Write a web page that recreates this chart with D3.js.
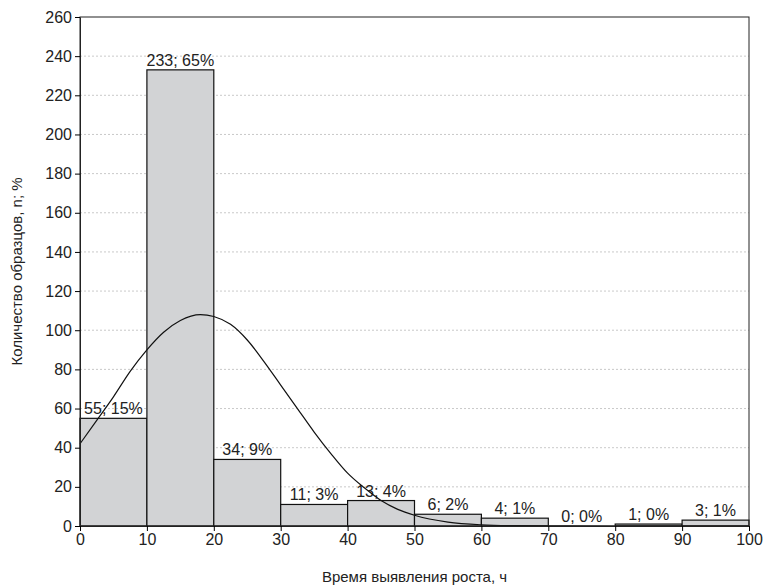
<!DOCTYPE html><html><head><script src="https://cdn.jsdelivr.net/npm/d3@7"></script>
<style>body{margin:0;background:#fff}text{font-family:"Liberation Sans",Arial,sans-serif}</style></head><body>
<svg id="c" width="768" height="588"></svg>
<script>
const binStarts=[0,10,20,30,40,50,60,70,80,90];
const counts=[55,233,34,11,13,6,4,0,1,3];
const labels=["55; 15%","233; 65%","34; 9%","11; 3%","13; 4%","6; 2%","4; 1%","0; 0%","1; 0%","3; 1%"];
const curveX=[0,2.5,5,7.5,10,12.5,15,18,20,22.5,25,27.5,30,32.5,35,37.5,40,42.5,45,47.5,50,55,60,65,70,80,100];
const curveY=[42,54,66,79,90,99,105,108,107,103,95,84,72,60,48,37,27,19.5,13,8.5,5.5,2,0.6,0.15,0.03,0,0];
const yTicks=[0,20,40,60,80,100,120,140,160,180,200,220,240,260];
const xTicks=[0,10,20,30,40,50,60,70,80,90,100];
const svg=d3.select("#c");
const L=80,R=749,T=17,B=526;
const x=d3.scaleLinear().domain([0,100]).range([L,R]);
const y=d3.scaleLinear().domain([0,260]).range([B,T]);
svg.append("g").selectAll("line").data(yTicks.slice(1,-1)).join("line")
 .attr("x1",L).attr("x2",R).attr("y1",d=>y(d)).attr("y2",d=>y(d))
 .attr("stroke","#bbb").attr("stroke-dasharray","2,2").attr("stroke-width",0.8);
svg.append("g").selectAll("rect").data(counts).join("rect")
 .attr("x",(d,i)=>x(binStarts[i])).attr("width",x(10)-x(0))
 .attr("y",d=>y(d)).attr("height",d=>B-y(d))
 .attr("fill","#d2d3d5").attr("stroke","#111").attr("stroke-width",1.2);
svg.append("g").selectAll("text").data(labels).join("text")
 .attr("x",(d,i)=>x(binStarts[i]+5)).attr("y",(d,i)=>y(counts[i])-4)
 .attr("text-anchor","middle").attr("font-size",16).attr("fill","#222").text(d=>d);
svg.append("path").datum(curveX.map((v,i)=>[v,curveY[i]]))
 .attr("d",d3.line().x(d=>x(d[0])).y(d=>y(d[1])).curve(d3.curveMonotoneX))
 .attr("fill","none").attr("stroke","#111").attr("stroke-width",1.2);
svg.append("rect").attr("x",L).attr("y",T).attr("width",R-L).attr("height",B-T).attr("fill","none").attr("stroke","#222").attr("stroke-width",1);
const ya=svg.append("g").attr("transform",`translate(${L},0)`).call(d3.axisLeft(y).tickValues(yTicks).tickSize(5).tickSizeOuter(0));
const xa=svg.append("g").attr("transform",`translate(0,${B})`).call(d3.axisBottom(x).tickValues(xTicks).tickSize(5).tickSizeOuter(0));
[ya,xa].forEach(a=>{a.select(".domain").attr("stroke","#222");a.selectAll("text").attr("font-size",16).attr("fill","#222").style("font-family","Liberation Sans, Arial");});
svg.append("text").attr("x",(L+R)/2).attr("y",582).attr("text-anchor","middle").attr("font-size",15).attr("fill","#222").text("Время выявления роста, ч");
svg.append("text").attr("transform",`translate(22,${(T+B)/2}) rotate(-90)`).attr("text-anchor","middle").attr("font-size",15).attr("fill","#222").text("Количество образцов, n; %");
</script></body></html>
